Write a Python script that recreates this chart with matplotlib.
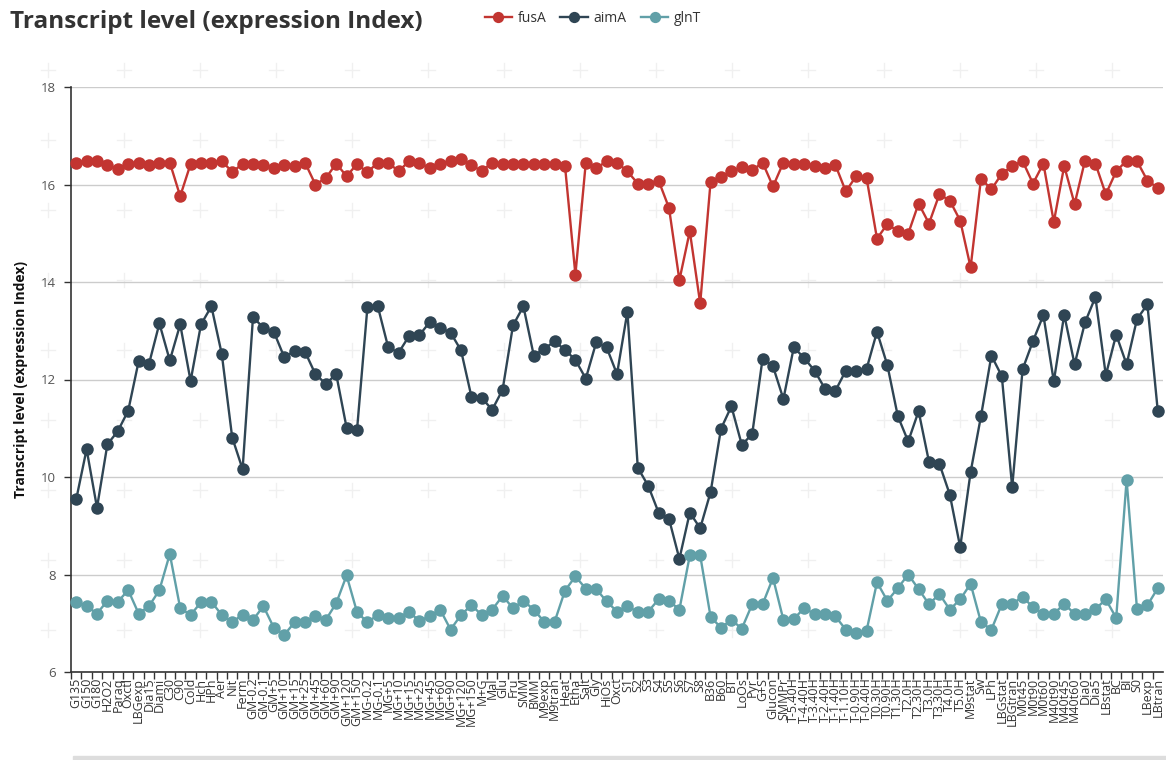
import matplotlib
matplotlib.use("Agg")
import matplotlib.pyplot as plt
from matplotlib.lines import Line2D
from matplotlib.patches import Rectangle

conditions = ["G135","G150","G180","H2O2","Paraq","Oxctl","LBGexp","Dia15","Diami","C30",
              "C90","Cold","Hch","HPh","Aer","Nit","Ferm","GM-0.2","GM-0.1","GM+5",
              "GM+10","GM+15","GM+25","GM+45","GM+60","GM+90","GM+120","GM+150","MG-0.2","MG-0.1",
              "MG+5","MG+10","MG+15","MG+25","MG+45","MG+60","MG+90","MG+120","MG+150","M+G",
              "Mal","Glu","Fru","SMM","BMM","M9exp","M9tran","Heat","Etha","Salt",
              "Gly","HiOs","Oxct","S1","S2","S3","S4","S5","S6","S7",
              "S8","B36","B60","BT","LoOs","Pyr","G+S","Glucon","SMMPr","T-5.40H",
              "T-4.40H","T-3.40H","T-2.40H","T-1.40H","T-1.10H","T-0.90H","T-0.40H","T0.30H","T0.90H","T1.30H",
              "T2.0H","T2.30H","T3.0H","T3.30H","T4.0H","T5.0H","M9stat","Sw","LPh","LBGstat",
              "LBGtran","M0t45","M0t90","M0t60","M40t90","M40t45","M40t60","Dia0","Dia5","LBstat",
              "BC","BI","S0","LBexp","LBtran"]

fusA = [16.45,16.48,16.48,16.39,16.32,16.43,16.45,16.39,16.44,16.45,
        15.76,16.42,16.45,16.45,16.48,16.26,16.42,16.43,16.39,16.34,
        16.41,16.38,16.45,16.00,16.13,16.43,16.17,16.42,16.25,16.45,
        16.45,16.27,16.48,16.45,16.33,16.43,16.48,16.53,16.39,16.28,
        16.45,16.43,16.43,16.43,16.43,16.43,16.43,16.38,14.15,16.45,
        16.33,16.48,16.45,16.27,16.02,16.02,16.08,15.52,14.04,15.04,
        13.56,16.06,16.16,16.27,16.36,16.29,16.45,15.96,16.45,16.42,
        16.43,16.38,16.33,16.40,15.86,16.17,16.13,14.89,15.19,15.04,
        14.99,15.61,15.20,15.80,15.67,15.26,14.30,16.12,15.90,16.22,
        16.38,16.48,16.02,16.43,15.23,16.38,15.60,16.49,16.43,15.80,
        16.27,16.49,16.48,16.08,15.93]

aimA = [9.54,10.57,9.37,10.67,10.94,11.36,12.37,12.32,13.15,12.39,
        13.13,11.97,13.13,13.50,12.52,10.81,10.16,13.28,13.06,12.98,
        12.46,12.58,12.57,12.11,11.91,12.11,11.01,10.96,13.48,13.50,
        12.66,12.55,12.89,12.91,13.18,13.06,12.96,12.60,11.65,11.62,
        11.38,11.79,13.11,13.50,12.49,12.63,12.78,12.61,12.40,12.02,
        12.76,12.66,12.11,13.39,10.19,9.82,9.27,9.14,8.32,9.27,
        8.95,9.69,10.99,11.45,10.66,10.88,12.43,12.27,11.60,12.66,
        12.44,12.18,11.81,11.77,12.18,12.18,12.22,12.98,12.29,11.25,
        10.73,11.35,10.31,10.27,9.64,8.56,10.10,11.25,12.49,12.07,
        9.79,12.21,12.79,13.32,11.96,13.33,12.31,13.17,13.69,12.09,
        12.92,12.31,13.24,13.54,11.35]

glnT = [7.44,7.35,7.20,7.46,7.44,7.68,7.20,7.35,7.68,8.42,
        7.31,7.17,7.43,7.44,7.17,7.03,7.17,7.07,7.35,6.91,
        6.76,7.02,7.02,7.15,7.07,7.41,7.98,7.23,7.02,7.17,
        7.11,7.11,7.24,7.04,7.15,7.28,6.87,7.17,7.37,7.17,
        7.28,7.56,7.31,7.46,7.28,7.03,7.03,7.67,7.96,7.71,
        7.70,7.45,7.24,7.35,7.23,7.24,7.49,7.46,7.28,8.39,
        8.39,7.13,6.91,7.07,6.89,7.39,7.39,7.93,7.07,7.09,
        7.31,7.19,7.20,7.14,6.87,6.79,6.85,7.84,7.46,7.72,
        8.00,7.70,7.39,7.60,7.28,7.49,7.81,7.02,6.87,7.39,
        7.40,7.54,7.33,7.19,7.20,7.39,7.20,7.19,7.29,7.49,
        7.11,9.94,7.29,7.37,7.72]

series_names = ["fusA", "aimA", "glnT"]
colors = ["#c23531", "#2f4554", "#61a0a8"]
y_ticks = [6, 8, 10, 12, 14, 16, 18]

W, H = 1166, 760
fig = plt.figure(figsize=(W / 100, H / 100), dpi=100)
fig.patch.set_facecolor("white")

# faint background crosses
for cx in range(48, W, 76):
    for cy in range(70, H - 60, 70):
        fig.add_artist(Line2D([(cx - 7) / W, (cx + 7) / W], [1 - cy / H, 1 - cy / H],
                              color="#f0f0f0", lw=1, zorder=0))
        fig.add_artist(Line2D([cx / W, cx / W], [1 - (cy - 7) / H, 1 - (cy + 7) / H],
                              color="#f0f0f0", lw=1, zorder=0))

left, right = 71 / W, 1163 / W
bottom, top = 1 - 672 / H, 1 - 87 / H
ax = fig.add_axes([left, bottom, right - left, top - bottom])
ax.set_facecolor("none")

x = list(range(len(conditions)))
for name, vals, c in zip(series_names, [fusA, aimA, glnT], colors):
    ax.plot(x, vals, color=c, lw=1.7, marker="o", markersize=9,
            markeredgewidth=0, label=name, zorder=3, clip_on=False)

ax.set_xlim(-0.5, len(conditions) - 0.5)
ax.set_ylim(6, 18)
ax.set_yticks(y_ticks)
ax.set_yticklabels([str(t) for t in y_ticks], fontsize=9.5, color="#555555",
                   family="Open Sans")
ax.yaxis.grid(True, color="#cccccc", lw=1)
ax.set_axisbelow(True)

ax.set_xticks(x)
ax.set_xticklabels(conditions, rotation=90, fontsize=9, color="#333333",
                   family="Open Sans")
ax.tick_params(axis="x", length=0, pad=4)
ax.set_xticks([i + 0.5 for i in x[:-1]] + [-0.5], minor=True)
ax.tick_params(axis="x", which="minor", length=5, color="#333333", width=1)
ax.tick_params(axis="y", length=5, color="#333333", width=1, pad=6)

for s in ["top", "right"]:
    ax.spines[s].set_visible(False)
for s in ["left", "bottom"]:
    ax.spines[s].set_color("#333333")
    ax.spines[s].set_linewidth(1.2)

ax.set_ylabel("Transcript level (expression Index)", fontsize=10, fontweight="bold",
              color="#111111", family="Open Sans", labelpad=9)

fig.text(10 / W, 1 - 22 / H, "Transcript level (expression Index)", fontsize=17.5,
         fontweight="bold", color="#333333", family="Open Sans", va="center", ha="left")

leg = fig.legend(loc="center left", bbox_to_anchor=(472 / W, 1 - 18 / H), ncol=3,
                 frameon=False, handlelength=2.0, handletextpad=0.4,
                 columnspacing=1.0, markerscale=0.9, prop={"family": "Open Sans", "size": 10})
for t in leg.get_texts():
    t.set_color("#333333")

fig.add_artist(Rectangle((73 / W, 0), 1 - 73 / W, 4 / H, transform=fig.transFigure,
                         color="#dddddd", zorder=0))

fig.savefig("out.png", dpi=100, facecolor="white")
